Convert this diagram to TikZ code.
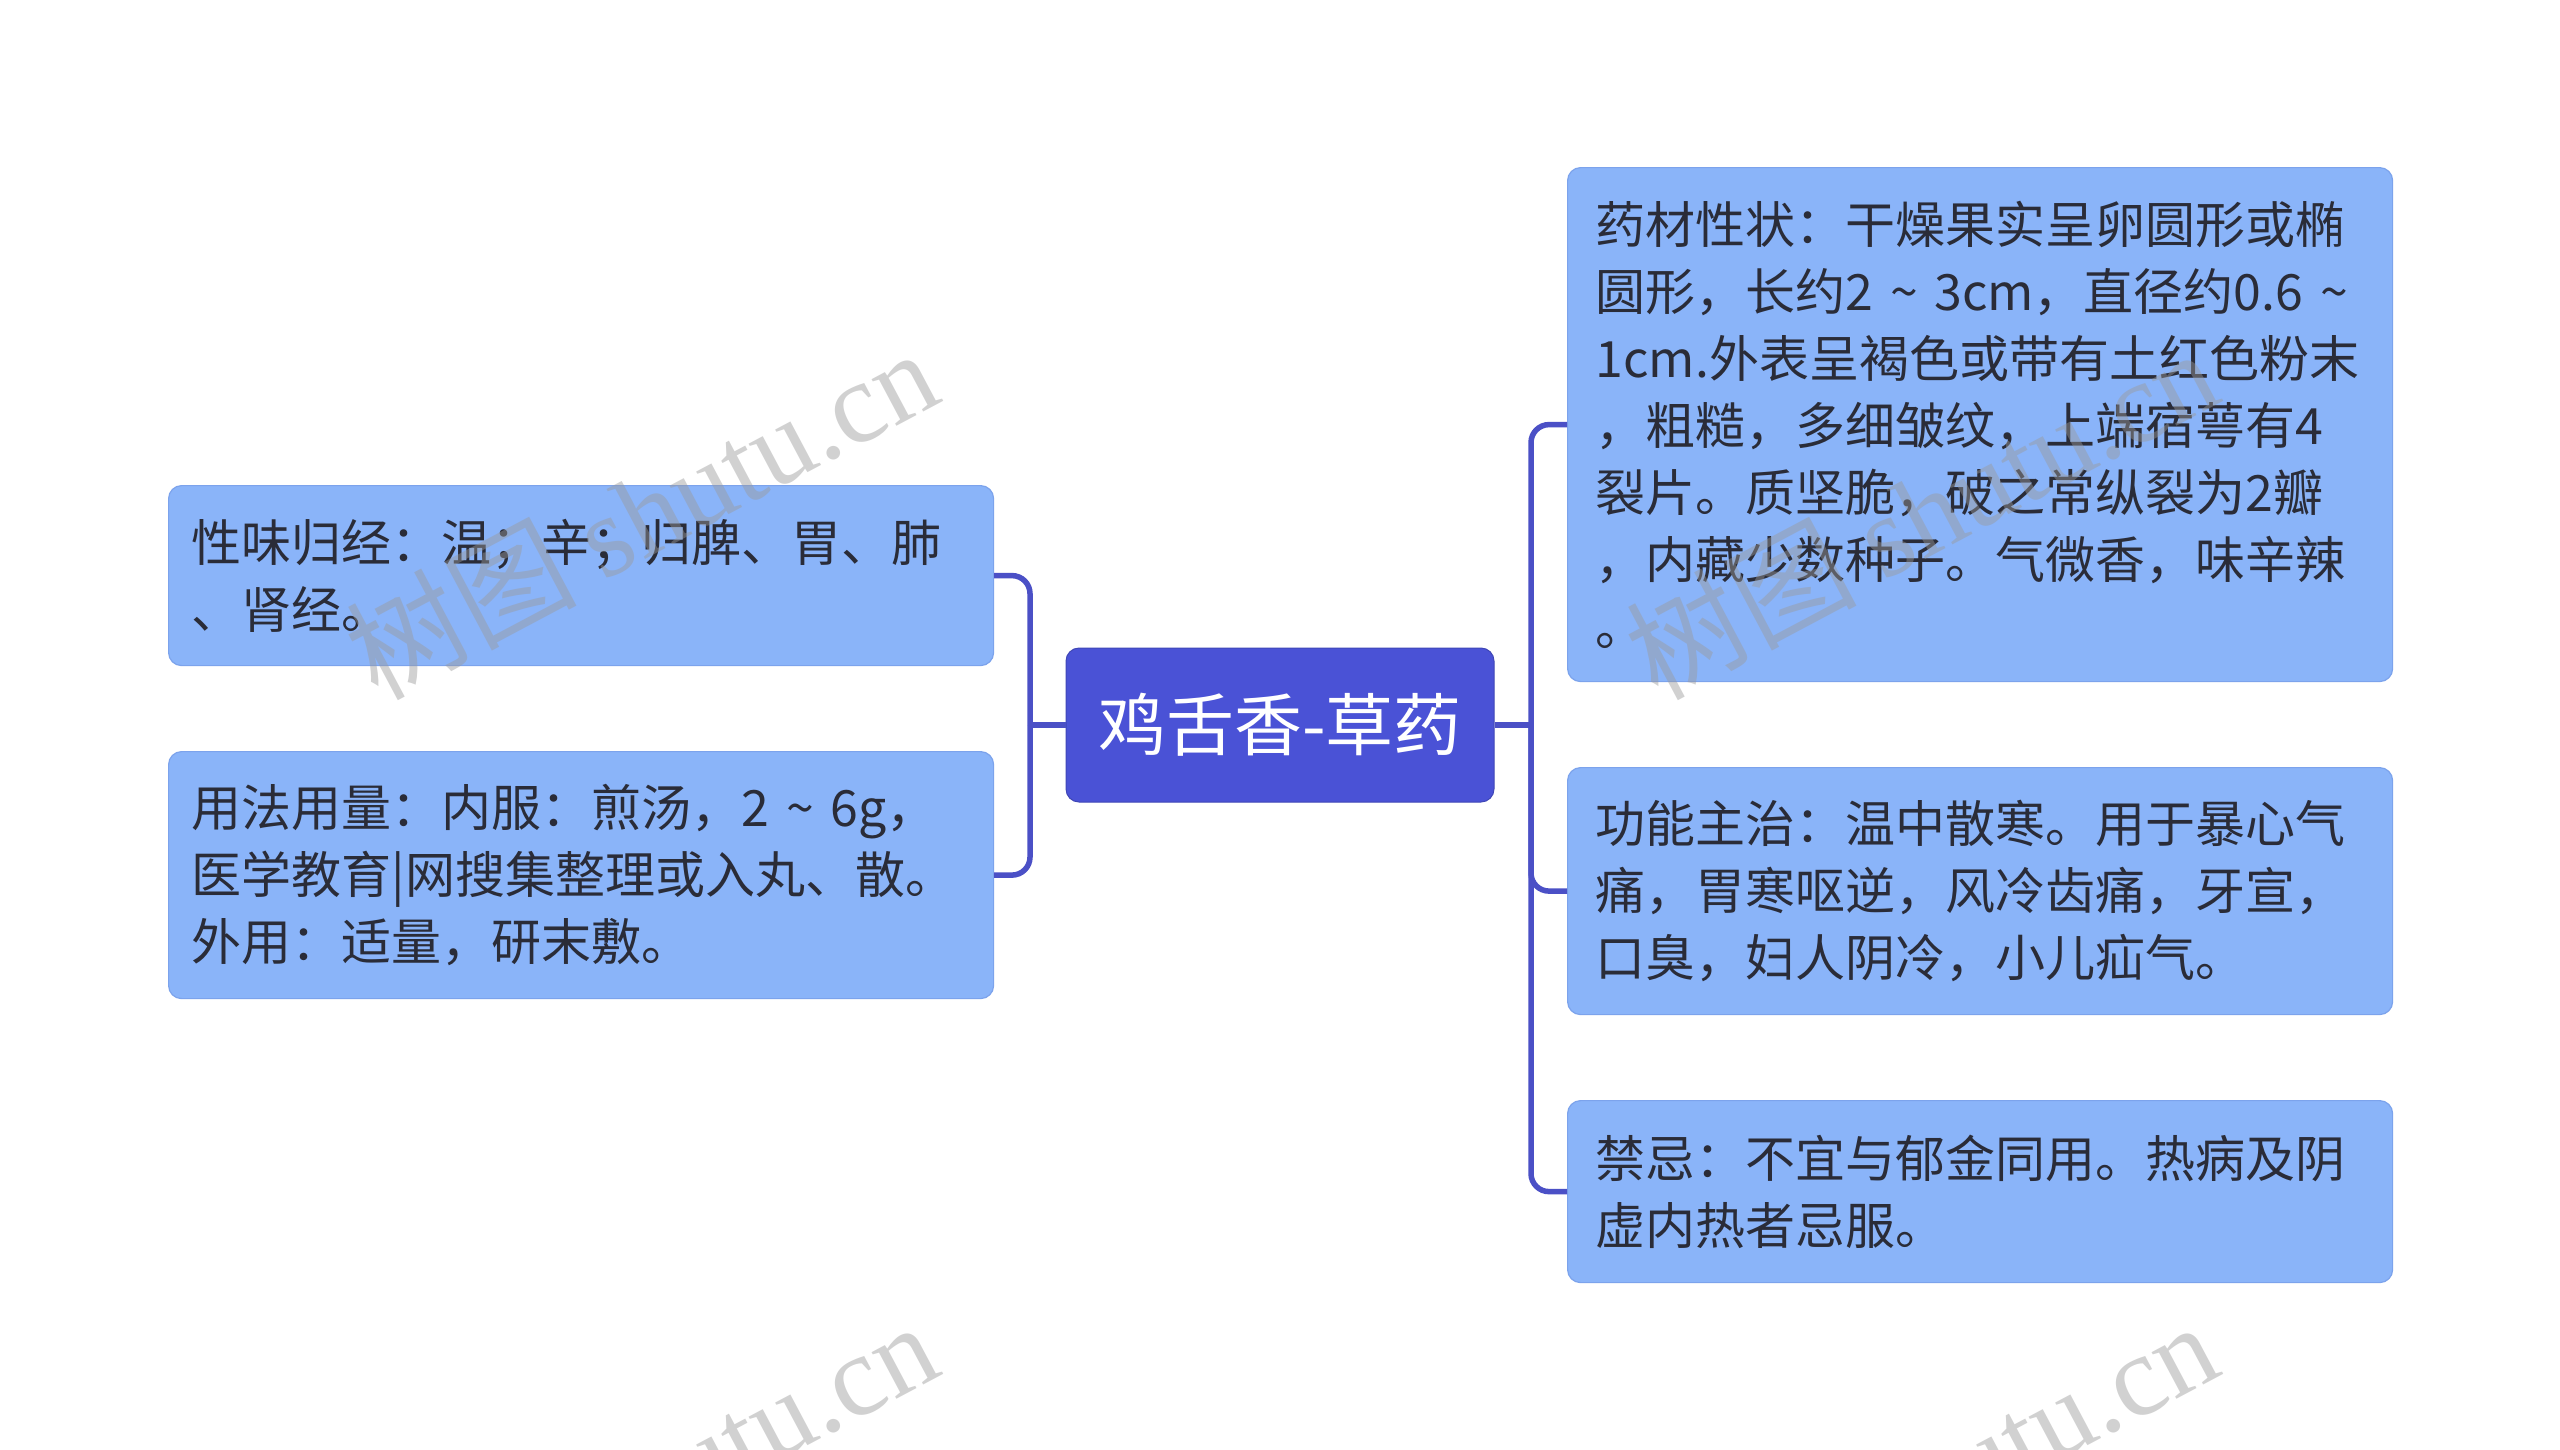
\documentclass[tikz,border=0pt]{standalone}
\usepackage{fontspec}
\setmainfont{Noto Sans CJK SC}
\newfontfamily\wmlatin{Liberation Serif}
\definecolor{rootfill}{HTML}{4A52D6}
\definecolor{leaffill}{HTML}{8AB4F9}
\definecolor{leafedge}{HTML}{7CA3EC}
\definecolor{linecol}{HTML}{4B50C6}
\definecolor{txt}{HTML}{2A2C38}
\definecolor{wmcol}{HTML}{9A9A9A}
\begin{document}
\begin{tikzpicture}[x=1pt,y=-1pt,
  leaf/.style={draw=leafedge, line width=1.2pt, fill=leaffill, rounded corners=13pt,
    minimum width=825pt, text width=769pt, inner xsep=28pt, inner ysep=0pt,
    align=left, text=txt, font=\fontsize{50}{67}\selectfont, anchor=north west},
  leftleaf/.style={leaf, text width=779pt, inner xsep=23pt},
  rootbox/.style={fill=rootfill, draw=rootfill!85!black, line width=1pt, rounded corners=13pt,
    minimum width=428pt, minimum height=154pt, text=white, inner sep=0pt,
    font=\fontsize{68}{80}\selectfont},
  conn/.style={draw=linecol, line width=5.5pt, rounded corners=18pt},
  wmark/.style={text=wmcol, opacity=0.45, rotate=28, anchor=base east, inner sep=0pt,
    font=\fontsize{115}{120}\selectfont}
]
\useasboundingbox[fill=white] (0,0) rectangle (2560,1449);

\node[rootbox] (root) at (1280,725) {鸡舌香-草药};

\node[leftleaf, minimum height=180pt] (l1) at (168,485)
  {性味归经：温；辛；归脾、胃、肺\\、肾经。};
\node[leftleaf, minimum height=247pt] (l2) at (168,751)
  {用法用量：内服：煎汤，2 \textasciitilde{} 6g，\\医学教育|网搜集整理或入丸、散。\\外用：适量，研末敷。};

\node[leaf, minimum height=514pt] (r1) at (1567,167)
  {药材性状：干燥果实呈卵圆形或椭\\圆形，长约2 \textasciitilde{} 3cm，直径约0.6 \textasciitilde\\1cm.外表呈褐色或带有土红色粉末\\，粗糙，多细皱纹，上端宿萼有4\\裂片。质坚脆，破之常纵裂为2瓣\\，内藏少数种子。气微香，味辛辣\\。};
\node[leaf, minimum height=247pt] (r2) at (1567,767)
  {功能主治：温中散寒。用于暴心气\\痛，胃寒呕逆，风冷齿痛，牙宣，\\口臭，妇人阴冷，小儿疝气。};
\node[leaf, minimum height=182pt] (r3) at (1567,1100)
  {禁忌：不宜与郁金同用。热病及阴\\虚内热者忌服。};

\coordinate (rs) at (1531,725);
\coordinate (ls) at (1030,725);

\draw[conn] (root.east) -- (rs);
\draw[conn] (rs) |- (r1.west);
\draw[conn] (rs) |- (r2.west);
\draw[conn] (rs) |- (r3.west);
\draw[conn] (root.west) -- (ls);
\draw[conn] (ls) |- (l1.east);
\draw[conn] (ls) |- (l2.east);

\node[wmark] (w1) at (945,400) {树图 {\wmlatin shutu.cn}};
\node[wmark] (w2) at (2225,400) {树图 {\wmlatin shutu.cn}};
\node[wmark] (w3) at (945,1373) {树图 {\wmlatin shutu.cn}};
\node[wmark] (w4) at (2225,1373) {树图 {\wmlatin shutu.cn}};
\end{tikzpicture}
\end{document}
